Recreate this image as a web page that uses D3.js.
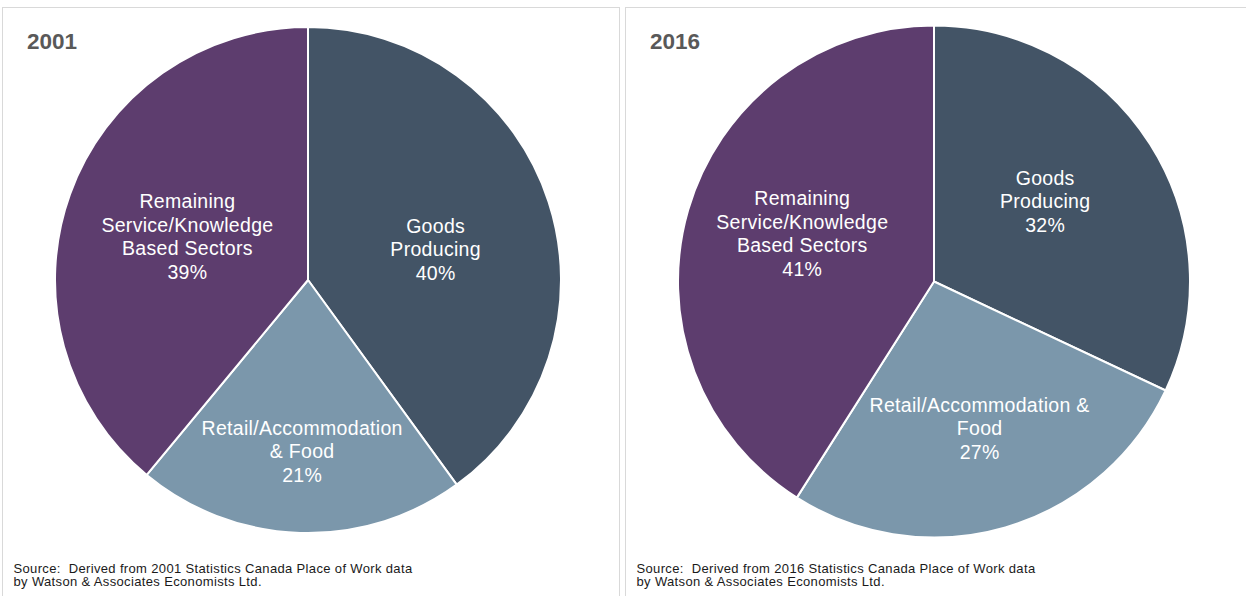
<!DOCTYPE html>
<html><head><meta charset="utf-8">
<script src="https://cdn.jsdelivr.net/npm/d3@7"></script>
<style>body{margin:0;background:#fff;}svg{display:block;font-family:"Liberation Sans",Arial,sans-serif;}</style>
</head><body><svg id="c" width="1246" height="596"></svg>
<script>
const categories = ["Goods Producing", "Retail/Accommodation & Food", "Remaining Service/Knowledge Based Sectors"];
const years = ["2001", "2016"];
const values2001 = [40, 21, 39];
const values2016 = [32, 27, 41];
const labels2001 = [["Goods","Producing"],["Retail/Accommodation","& Food"],["Remaining","Service/Knowledge","Based Sectors"]];
const labels2016 = [["Goods","Producing"],["Retail/Accommodation &","Food"],["Remaining","Service/Knowledge","Based Sectors"]];
const sources = ["Source:  Derived from 2001 Statistics Canada Place of Work data", "Source:  Derived from 2016 Statistics Canada Place of Work data"];
const sourceLine2 = "by Watson & Associates Economists Ltd.";

const colors = ["#435466", "#7B97AB", "#5D3D6E"];
const svg = d3.select("#c");

// label placement: [radius fraction, fraction along the slice angle]
const panels = [
  {x0:2.5, w:617, cx:308, cy:280, r:253, vals:values2001, labs:labels2001, year:years[0], src:sources[0],
   lp:[[0.518,0.531],[0.678,0.503],[0.507,0.499]]},
  {x0:625.5, w:640, cx:934, cy:281.5, r:256, vals:values2016, labs:labels2016, year:years[1], src:sources[1],
   lp:[[0.534,0.471],[0.601,0.49],[0.548,0.525]]}
];

panels.forEach(p => {
  const g = svg.append("g");
  g.append("rect").attr("x", p.x0).attr("y", 7.5).attr("width", p.w).attr("height", 620)
    .attr("fill", "#fff").attr("stroke", "#d9d9d9").attr("stroke-width", 1);
  const pie = d3.pie().sort(null).value(d => d)(p.vals);
  const arc = d3.arc().innerRadius(0).outerRadius(p.r);
  const pg = g.append("g").attr("transform", `translate(${p.cx},${p.cy})`);
  pg.selectAll("path").data(pie).join("path")
    .attr("d", arc).attr("fill", (d,i) => colors[i])
    .attr("stroke", "#fff").attr("stroke-width", 2).attr("stroke-linejoin", "round");
  pie.forEach((d,i) => {
    const a = d.startAngle + (d.endAngle - d.startAngle) * p.lp[i][1];
    const rr = p.r * p.lp[i][0];
    const x = Math.sin(a) * rr, y = -Math.cos(a) * rr;
    const lines = p.labs[i].concat([p.vals[i] + "%"]);
    const lh = 23.5;
    const t = pg.append("text").attr("text-anchor", "middle").attr("fill", "#fff")
      .attr("font-size", 19.5).attr("letter-spacing", 0.3);
    lines.forEach((ln, k) => {
      t.append("tspan").attr("x", x + 0.2).attr("y", y + (k - (lines.length - 1) / 2) * lh + 6.8).text(ln);
    });
  });
  g.append("text").attr("x", p.x0 + 24.5).attr("y", 49).attr("font-size", 22.5).attr("font-weight", "bold")
    .attr("fill", "#595959").text(p.year);
  g.append("text").attr("x", p.x0 + 11).attr("y", 573).attr("font-size", 13).attr("letter-spacing", 0.35)
    .attr("fill", "#1a1a1a").style("white-space", "pre").text(p.src);
  g.append("text").attr("x", p.x0 + 11).attr("y", 586).attr("font-size", 13).attr("letter-spacing", 0.35)
    .attr("fill", "#1a1a1a").text(sourceLine2);
});
</script></body></html>
